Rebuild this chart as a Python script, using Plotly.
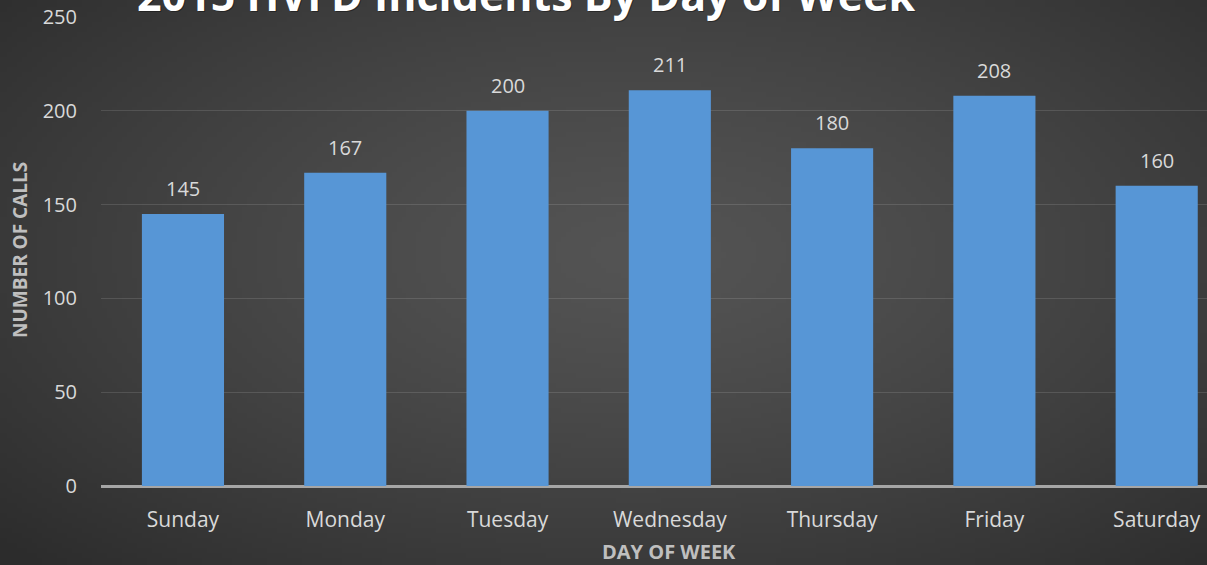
import base64, struct, zlib
import numpy as np
import plotly.graph_objects as go

days = ["Sunday", "Monday", "Tuesday", "Wednesday", "Thursday", "Friday", "Saturday"]
calls = [145, 167, 200, 211, 180, 208, 160]
y_ticks = [0, 50, 100, 150, 200, 250]
title_text = "2015 HVFD Incidents By Day of Week"
x_title = "DAY OF WEEK"
y_title = "NUMBER OF CALLS"

W, H = 1207, 565
FONT = "Open Sans"


def radial_png(w=242, h=113):
    xs = (np.arange(w) + 0.5) / w
    ys = (np.arange(h) + 0.5) / h
    X, Y = np.meshgrid(xs, ys)
    d = np.sqrt(((X - 0.53) / 0.72) ** 2 + ((Y - 0.45) / 0.78) ** 2)
    d = np.clip(d, 0, 1)
    v = 84 - (84 - 44) * d ** 1.3
    v = v.astype(np.uint8)
    rgb = np.stack([v, v, v], axis=-1)
    raw = b"".join(b"\x00" + rgb[r].tobytes() for r in range(h))

    def chunk(tag, data):
        c = struct.pack(">I", len(data)) + tag + data
        return c + struct.pack(">I", zlib.crc32(tag + data) & 0xFFFFFFFF)

    png = b"\x89PNG\r\n\x1a\n"
    png += chunk(b"IHDR", struct.pack(">IIBBBBB", w, h, 8, 2, 0, 0, 0))
    png += chunk(b"IDAT", zlib.compress(raw, 9))
    png += chunk(b"IEND", b"")
    return "data:image/png;base64," + base64.b64encode(png).decode()


x_dom0 = 101 / W
y_dom0 = 1 - 486 / H
y_dom1 = 1 - 17 / H

fig = go.Figure()
fig.add_trace(go.Bar(
    x=list(range(len(days))), y=calls, width=0.506,
    marker=dict(color="#5796d6", line=dict(width=0)),
    hoverinfo="skip",
))

for i, v in enumerate(calls):
    fig.add_annotation(x=i, y=v, text=str(v), showarrow=False, yanchor="bottom",
                       yshift=10, font=dict(family=FONT, size=20, color="#d9d9d9"))

# title (with soft shadow)
fig.add_annotation(xref="paper", yref="paper", x=527.5 / W, y=1 + 6 / H, text=title_text,
                   showarrow=False, xanchor="center", yanchor="middle", yshift=-1.5,
                   font=dict(family=FONT, size=43, color="rgba(0,0,0,0.35)", weight="bold"))
fig.add_annotation(xref="paper", yref="paper", x=526 / W, y=1 + 6 / H, text=title_text,
                   showarrow=False, xanchor="center", yanchor="middle",
                   font=dict(family=FONT, size=43, color="#ffffff", weight="bold"))

fig.add_annotation(xref="paper", yref="paper", x=669 / W, y=1 - 551 / H, text=x_title,
                   showarrow=False, xanchor="center", yanchor="middle",
                   font=dict(family=FONT, size=20, color="#bfbfbf", weight="bold"))
fig.add_annotation(xref="paper", yref="paper", x=20 / W, y=1 - 250 / H, text=y_title,
                   showarrow=False, xanchor="center", yanchor="middle", textangle=-90,
                   font=dict(family=FONT, size=19, color="#bfbfbf", weight="bold"))

fig.update_layout(
    width=W, height=H,
    margin=dict(l=0, r=0, t=0, b=0, autoexpand=False),
    paper_bgcolor="#3a3a3a", plot_bgcolor="rgba(0,0,0,0)",
    showlegend=False,
    images=[dict(source=radial_png(), xref="paper", yref="paper", x=0, y=1,
                 sizex=1, sizey=1, xanchor="left", yanchor="top",
                 sizing="stretch", layer="below")],
    xaxis=dict(domain=[x_dom0, 1], range=[-0.505, 6.31], automargin=False,
               tickmode="array", tickvals=list(range(len(days))), ticktext=days,
               showgrid=False, zeroline=False, showline=False,
               ticks="outside", ticklen=15, tickcolor="rgba(0,0,0,0)",
               tickfont=dict(family=FONT, size=21, color="#d9d9d9")),
    yaxis=dict(domain=[y_dom0, y_dom1], range=[0, 250], automargin=False,
               tickmode="array", tickvals=y_ticks,
               showgrid=True, gridcolor="rgba(255,255,255,0.12)", gridwidth=1,
               zeroline=True, zerolinecolor="#a6a6a6", zerolinewidth=3,
               ticks="outside", ticklen=19, tickcolor="rgba(0,0,0,0)",
               tickfont=dict(family=FONT, size=20, color="#d9d9d9")),
)

fig.write_html("out.html")
